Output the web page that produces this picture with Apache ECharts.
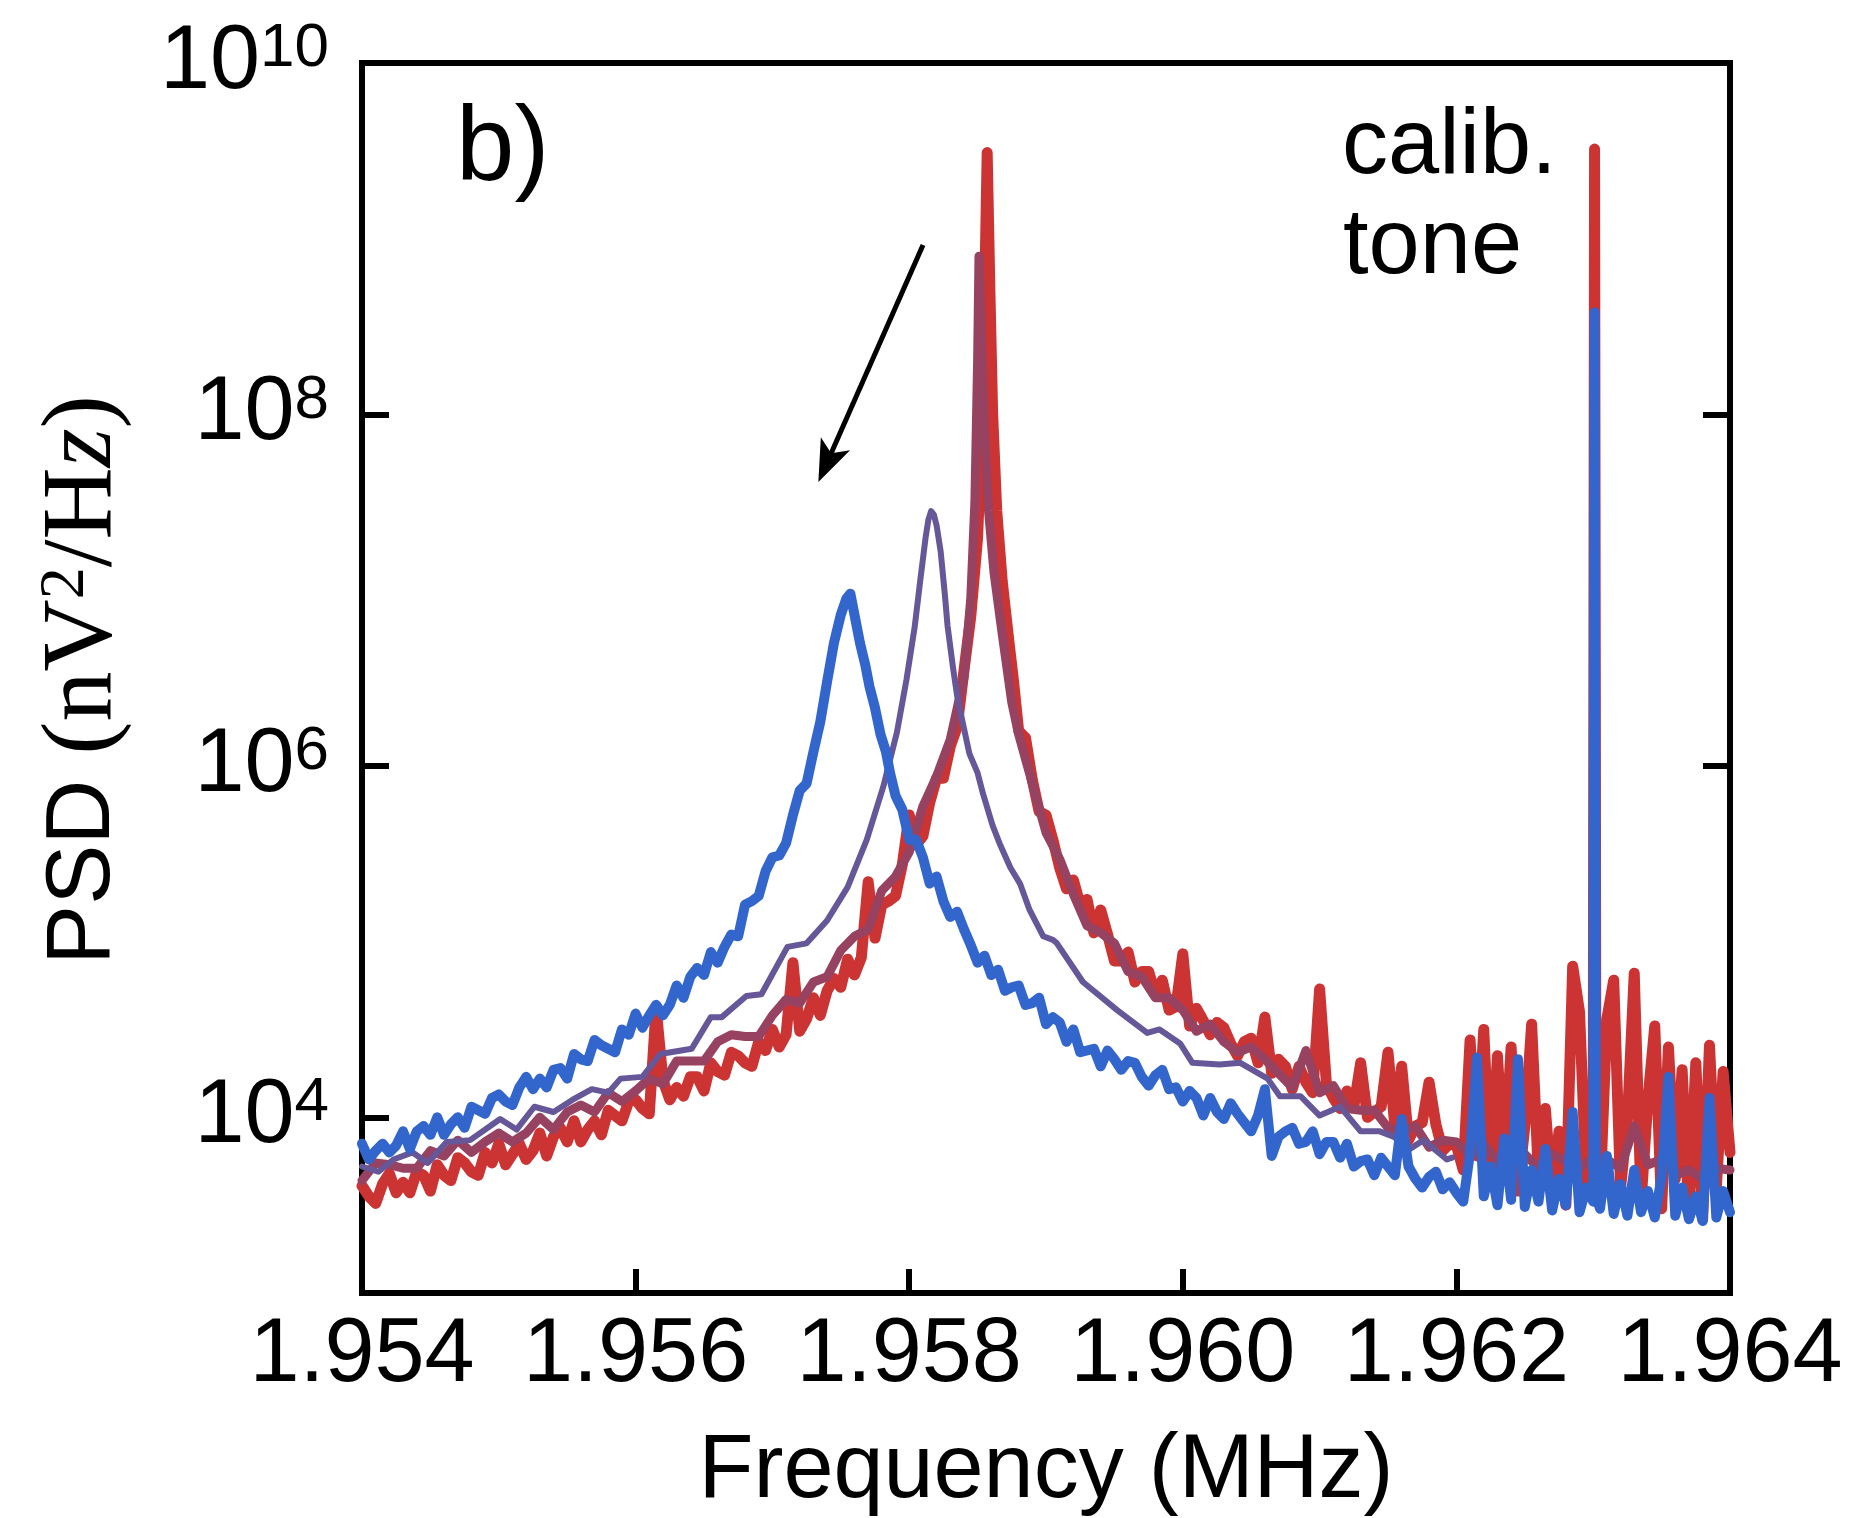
<!DOCTYPE html>
<html>
<head>
<meta charset="utf-8">
<title>PSD vs frequency</title>
<script src="https://cdn.jsdelivr.net/npm/echarts@6.0.0/dist/echarts.min.js"></script>
<style>
  html, body { margin: 0; padding: 0; background: #fff; }
  #chart { width: 1871px; height: 1518px; }
</style>
</head>
<body>
<div id="chart"></div>
<script>
// each point: [frequency in MHz, log10 of PSD in nV^2/Hz]
const redTrace = [
  [1.95400,3.61],[1.95405,3.55],[1.95410,3.51],[1.95415,3.62],[1.95420,3.68],[1.95425,3.57],[1.95430,3.63],[1.95435,3.57],[1.95440,3.69],[1.95445,3.67],
  [1.95450,3.58],[1.95455,3.73],[1.95460,3.67],[1.95465,3.64],[1.95470,3.77],[1.95475,3.74],[1.95480,3.69],[1.95485,3.67],[1.95490,3.80],[1.95495,3.74],
  [1.95500,3.85],[1.95505,3.73],[1.95510,3.79],[1.95515,3.85],[1.95520,3.76],[1.95525,3.81],[1.95530,3.91],[1.95535,3.78],[1.95540,3.89],[1.95545,3.94],
  [1.95550,3.86],[1.95555,3.98],[1.95560,3.86],[1.95565,3.93],[1.95570,3.98],[1.95575,3.90],[1.95580,4.04],[1.95585,4.01],[1.95590,3.98],[1.95595,4.09],
  [1.95600,4.10],[1.95605,4.05],[1.95610,4.02],[1.95615,4.62],[1.95620,4.21],[1.95625,4.10],[1.95630,4.17],[1.95635,4.12],[1.95640,4.23],[1.95645,4.23],
  [1.95650,4.15],[1.95655,4.31],[1.95660,4.26],[1.95665,4.24],[1.95670,4.37],[1.95675,4.35],[1.95680,4.31],[1.95685,4.29],[1.95690,4.43],[1.95695,4.38],
  [1.95700,4.50],[1.95705,4.40],[1.95710,4.47],[1.95715,4.88],[1.95720,4.49],[1.95725,4.56],[1.95730,4.68],[1.95735,4.58],[1.95740,4.72],[1.95745,4.79],
  [1.95750,4.74],[1.95755,4.90],[1.95760,4.81],[1.95765,4.91],[1.95770,5.34],[1.95775,5.02],[1.95780,5.21],[1.95785,5.23],[1.95790,5.26],[1.95795,5.44],
  [1.95800,5.72],[1.95805,5.55],[1.95810,5.60],[1.95815,5.79],[1.95820,5.93],[1.95825,5.93],[1.95830,6.11],[1.95835,6.22],[1.95840,6.54],[1.95845,6.85],
  [1.95850,7.30],[1.95853,7.90],[1.95855,8.60],[1.95857,9.49],[1.95859,8.70],[1.95861,8.00],[1.95864,7.45],[1.95868,7.05],[1.95873,6.70],[1.95876,6.50],
  [1.95880,6.20],[1.95885,6.16],[1.95890,5.92],[1.95895,5.74],[1.95900,5.72],[1.95905,5.58],[1.95910,5.42],[1.95915,5.30],[1.95920,5.35],[1.95925,5.21],
  [1.95930,5.24],[1.95935,5.05],[1.95940,5.18],[1.95945,5.04],[1.95950,4.89],[1.95955,4.89],[1.95960,4.94],[1.95965,4.77],[1.95970,4.83],[1.95975,4.83],
  [1.95980,4.70],[1.95985,4.78],[1.95990,4.61],[1.95995,4.63],[1.96000,4.93],[1.96005,4.52],[1.96010,4.62],[1.96015,4.55],[1.96020,4.47],[1.96025,4.54],
  [1.96030,4.51],[1.96035,4.42],[1.96040,4.35],[1.96045,4.43],[1.96050,4.45],[1.96055,4.31],[1.96060,4.57],[1.96065,4.25],[1.96070,4.33],[1.96075,4.29],
  [1.96080,4.16],[1.96085,4.29],[1.96090,4.20],[1.96095,4.14],[1.96100,4.73],[1.96105,4.19],[1.96110,4.11],[1.96115,4.05],[1.96120,4.15],[1.96125,4.06],
  [1.96130,4.31],[1.96135,4.00],[1.96140,4.03],[1.96145,4.06],[1.96150,4.37],[1.96155,3.95],[1.96160,4.29],[1.96165,3.87],[1.96170,3.95],[1.96175,3.97],
  [1.96180,4.20],[1.96185,3.96],[1.96190,3.81],[1.96195,3.85],
  [1.96200,3.84],[1.96205,3.70],[1.96210,4.44],[1.96215,3.78],[1.96220,4.50],[1.96225,3.62],[1.96230,4.35],[1.96235,3.70],[1.96240,4.40],[1.96245,3.58],
  [1.96250,3.95],[1.96255,4.53],[1.96260,3.66],[1.96265,4.05],[1.96270,3.55],[1.96275,3.92],[1.96280,3.50],[1.96285,4.86],[1.96290,4.60],[1.96295,3.62],
  [1.96300,3.80],[1.96301,9.51],[1.96302,3.75],[1.96305,3.55],[1.96310,4.56],[1.96315,4.78],[1.96320,3.60],[1.96325,3.98],[1.96330,4.82],[1.96335,3.52],
  [1.96340,4.10],[1.96345,4.52],[1.96350,3.48],[1.96355,4.40],[1.96360,3.65],[1.96365,4.27],[1.96370,3.45],[1.96375,4.31],[1.96380,3.42],[1.96385,4.41],
  [1.96390,3.60],[1.96395,4.26],[1.96400,3.80]
];

const mixedTrace = [
  [1.9540,3.64],[1.9541,3.74],[1.9542,3.73],[1.9543,3.71],[1.9544,3.71],[1.9545,3.81],[1.9546,3.78],[1.9547,3.87],[1.9548,3.80],[1.9549,3.86],
  [1.9550,3.91],[1.9551,3.86],[1.9552,3.91],[1.9553,4.00],[1.9554,3.93],[1.9555,4.03],[1.9556,4.07],[1.9557,4.03],[1.9558,4.14],[1.9559,4.09],
  [1.9560,4.15],[1.9561,4.22],[1.9562,4.19],[1.9563,4.32],[1.9564,4.32],[1.9565,4.32],[1.9566,4.43],[1.9567,4.47],[1.9568,4.46],[1.9569,4.46],
  [1.9570,4.58],[1.9571,4.67],[1.9572,4.65],[1.9573,4.77],[1.9574,4.80],[1.9575,4.95],[1.9576,5.03],[1.9577,5.07],[1.9578,5.29],[1.9579,5.37],
  [1.9580,5.51],[1.9581,5.77],[1.9582,5.94],[1.9583,6.15],[1.9584,6.50],[1.95845,6.95],[1.95848,7.50],[1.95850,8.30],[1.95851,8.90],[1.95853,8.40],
  [1.95855,7.90],[1.95858,7.45],[1.95862,7.10],[1.95868,6.75],[1.95875,6.36],[1.9588,6.18],[1.9589,5.90],[1.9590,5.62],[1.9591,5.47],[1.9592,5.27],
  [1.9593,5.09],[1.9594,5.05],[1.9595,4.99],[1.9596,4.83],[1.9597,4.80],[1.9598,4.68],[1.9599,4.68],[1.9600,4.61],[1.9601,4.49],[1.9602,4.53],
  [1.9603,4.43],[1.9604,4.37],[1.9605,4.40],[1.9606,4.33],[1.9607,4.25],[1.9608,4.17],[1.9609,4.38],[1.9610,4.14],[1.9611,4.18],[1.9612,4.05],
  [1.9613,4.04],[1.9614,4.04],[1.9615,3.94],[1.9616,3.92],[1.9617,3.95],[1.9618,3.83],[1.9619,3.87],[1.9620,3.86],[1.9621,3.78],[1.9622,3.85],
  [1.9623,3.75],[1.9624,3.77],[1.9625,3.79],[1.9626,3.71],[1.9627,3.79],[1.9628,3.75],[1.9629,3.71],[1.9630,3.77],[1.9631,3.76],[1.9632,3.71],
  [1.9633,3.95],[1.9634,3.73],[1.9635,3.76],[1.9636,3.67],[1.9637,3.70],[1.9638,3.65],[1.9639,3.71],[1.9640,3.70]
];

const purpleTrace = [
  [1.95400,3.72],[1.95412,3.69],[1.95423,3.76],[1.95437,3.80],[1.95448,3.74],[1.95462,3.86],[1.95479,3.87],[1.95501,3.99],[1.95513,3.93],[1.95526,4.06],
  [1.95540,4.03],[1.95554,4.10],[1.95568,4.16],[1.95580,4.14],[1.95589,4.22],[1.95605,4.23],[1.95618,4.36],[1.95641,4.39],[1.95655,4.57],[1.95663,4.57],
  [1.95681,4.69],[1.95692,4.70],[1.95711,4.97],[1.95725,4.99],[1.95740,5.12],[1.95755,5.31],[1.95769,5.58],[1.95781,5.88],[1.95791,6.19],[1.95798,6.49],
  [1.95804,6.79],[1.95808,7.05],[1.95812,7.30],[1.95814,7.40],[1.95816,7.45],[1.95818,7.43],[1.95820,7.37],[1.95823,7.22],[1.95826,6.98],[1.95828,6.80],
  [1.95832,6.56],[1.95835,6.40],[1.95839,6.25],[1.95844,6.07],[1.95850,5.96],[1.95854,5.84],[1.95861,5.66],[1.95866,5.56],[1.95874,5.42],[1.95881,5.33],
  [1.95888,5.18],[1.95898,5.03],[1.95905,5.01],[1.95908,4.99],[1.95927,4.77],[1.95952,4.61],[1.95974,4.48],[1.95983,4.50],[1.95998,4.42],[1.96007,4.31],
  [1.96027,4.30],[1.96042,4.31],[1.96062,4.22],[1.96071,4.12],[1.96086,4.12],[1.96100,4.01],[1.96115,4.06],[1.96130,3.92],[1.96144,3.92],[1.96154,3.89],
  [1.96166,3.82],[1.96176,3.87],[1.96193,3.76],[1.96197,3.77]
];

const blueTrace = [
  [1.95400,3.85],[1.95405,3.76],[1.95410,3.81],[1.95415,3.85],[1.95420,3.80],[1.95425,3.84],[1.95430,3.92],[1.95435,3.82],[1.95440,3.92],[1.95445,3.95],
  [1.95450,3.90],[1.95455,4.00],[1.95460,3.90],[1.95465,3.96],[1.95470,4.00],[1.95475,3.94],[1.95480,4.06],[1.95485,4.04],[1.95490,4.02],[1.95495,4.11],
  [1.95500,4.13],[1.95505,4.09],[1.95510,4.07],[1.95515,4.17],[1.95520,4.23],[1.95525,4.16],[1.95530,4.22],[1.95535,4.17],[1.95540,4.27],[1.95545,4.28],
  [1.95550,4.22],[1.95555,4.36],[1.95560,4.33],[1.95565,4.32],[1.95570,4.44],[1.95575,4.41],[1.95580,4.39],[1.95585,4.37],[1.95590,4.50],[1.95595,4.47],
  [1.95600,4.59],[1.95605,4.51],[1.95610,4.58],[1.95615,4.64],[1.95620,4.58],[1.95625,4.64],[1.95630,4.75],[1.95635,4.68],[1.95640,4.80],[1.95645,4.85],
  [1.95650,4.81],[1.95655,4.94],[1.95660,4.88],[1.95665,4.97],[1.95670,5.04],[1.95675,5.03],[1.95680,5.21],[1.95685,5.23],[1.95690,5.26],[1.95695,5.40],
  [1.95700,5.48],[1.95705,5.49],[1.95710,5.56],[1.95715,5.72],[1.95720,5.86],[1.95725,5.90],[1.95730,6.08],[1.95735,6.25],[1.95740,6.48],[1.95745,6.70],
  [1.95750,6.86],[1.95754,6.95],[1.95757,6.98],[1.95760,6.86],[1.95764,6.70],[1.95768,6.57],[1.95771,6.45],[1.95775,6.33],[1.95779,6.18],[1.95783,6.08],
  [1.95786,5.96],[1.95790,5.83],[1.95795,5.75],[1.95800,5.58],[1.95805,5.58],[1.95810,5.48],[1.95815,5.33],[1.95820,5.37],[1.95825,5.23],[1.95830,5.14],
  [1.95835,5.17],[1.95840,5.07],[1.95845,4.98],[1.95850,4.88],[1.95855,4.92],[1.95860,4.81],[1.95865,4.84],[1.95870,4.72],[1.95875,4.74],[1.95880,4.75],
  [1.95885,4.64],[1.95890,4.65],[1.95895,4.68],[1.95900,4.53],[1.95905,4.57],[1.95910,4.54],[1.95915,4.43],[1.95920,4.50],[1.95925,4.37],[1.95930,4.38],
  [1.95935,4.39],[1.95940,4.29],[1.95945,4.38],[1.95950,4.33],[1.95955,4.27],[1.95960,4.32],[1.95965,4.31],[1.95970,4.23],[1.95975,4.18],[1.95980,4.24],
  [1.95985,4.27],[1.95990,4.16],[1.95995,4.17],[1.96000,4.09],[1.96005,4.15],[1.96010,4.11],[1.96015,4.01],[1.96020,4.11],[1.96025,4.03],[1.96030,3.99],
  [1.96035,4.08],[1.96040,4.02],[1.96045,3.97],[1.96050,3.92],[1.96055,4.01],[1.96060,4.16],[1.96065,3.78],[1.96070,3.89],[1.96075,3.92],[1.96080,3.94],
  [1.96085,3.85],[1.96090,3.86],[1.96095,3.92],[1.96100,3.79],[1.96105,3.86],[1.96110,3.86],[1.96115,3.77],[1.96120,3.85],[1.96125,3.72],[1.96130,3.75],
  [1.96135,3.76],[1.96140,3.67],[1.96145,3.77],[1.96150,3.72],[1.96155,3.67],[1.96160,3.99],[1.96165,3.72],[1.96170,3.65],[1.96175,3.60],[1.96180,3.66],
  [1.96185,3.69],[1.96190,3.59],[1.96195,3.63],[1.96200,3.57],
  [1.96205,3.52],[1.96210,3.80],[1.96215,4.34],[1.96220,3.55],[1.96225,3.72],[1.96230,3.50],[1.96235,3.88],[1.96240,3.53],[1.96245,4.33],[1.96250,3.49],
  [1.96255,3.70],[1.96260,3.52],[1.96265,3.82],[1.96270,3.47],[1.96275,3.65],[1.96280,3.50],[1.96285,4.03],[1.96290,3.46],[1.96295,3.60],[1.96300,3.52],
  [1.96301,8.58],[1.96302,3.55],[1.96305,3.48],[1.96310,3.78],[1.96315,3.45],[1.96320,3.62],[1.96325,3.44],[1.96330,3.70],[1.96335,3.46],[1.96340,3.58],
  [1.96345,3.43],[1.96350,3.66],[1.96355,4.23],[1.96360,3.44],[1.96365,3.60],[1.96370,3.42],[1.96375,3.55],[1.96380,3.41],[1.96385,4.11],[1.96390,3.43],
  [1.96395,3.58],[1.96400,3.46]
];

const yTickValues = [1e4, 1e6, 1e8, 1e10];

const toPsd = pts => pts.map(p => [p[0], Math.pow(10, p[1])]);

const sans = 'Liberation Sans';
const serif = 'Liberation Serif';

const chart = echarts.init(document.getElementById('chart'));

function trace(data, color, width) {
  return {
    type: 'line',
    data: toPsd(data),
    symbol: 'none',
    showSymbol: false,
    silent: true,
    lineStyle: { color: color, width: width, join: 'round', cap: 'round' },
    itemStyle: { color: color }
  };
}

const blueSeries = trace(blueTrace, '#3366CC', 10);
// black arrow pointing down-left (annotation): shaft + head
blueSeries.markLine = {
  silent: true,
  symbol: ['none', 'none'],
  label: { show: false },
  lineStyle: { color: '#000', width: 5, type: 'solid', opacity: 1 },
  data: [[
    { coord: [1.958101, 9.2e8] },
    { coord: [1.957390, 5.12e7] }
  ]]
};
blueSeries.markPoint = {
  silent: true,
  symbol: 'arrow',
  symbolSize: [24, 42],
  symbolRotate: 156,
  label: { show: false },
  itemStyle: { color: '#000' },
  data: [{ coord: [1.957336, 4.12e7] }]
};

const option = {
  animation: false,
  backgroundColor: '#fff',
  grid: {
    left: 362, top: 63, width: 1368, height: 1230,
    show: true, borderColor: '#000', borderWidth: 6,
    containLabel: false, outerBoundsMode: 'none'
  },
  xAxis: [{
    type: 'value', min: 1.954, max: 1.964, interval: 0.002, position: 'bottom',
    axisLine: { show: true, onZero: false, lineStyle: { color: '#000', width: 6 } },
    axisTick: { show: true, inside: true, length: 24, lineStyle: { color: '#000', width: 6 } },
    axisLabel: {
      margin: 18, fontSize: 90, fontFamily: sans, color: '#000',
      showMinLabel: true, showMaxLabel: true,
      formatter: v => v.toFixed(3)
    },
    splitLine: { show: false },
    name: 'Frequency (MHz)', nameLocation: 'middle', nameGap: 134,
    nameTextStyle: { fontSize: 90, fontFamily: sans, color: '#000' }
  }, {
    type: 'value', min: 1.954, max: 1.964, position: 'top',
    axisLine: { show: true, onZero: false, lineStyle: { color: '#000', width: 6 } },
    axisTick: { show: false }, axisLabel: { show: false }, splitLine: { show: false }
  }],
  yAxis: [{
    type: 'log', logBase: 10, min: 1e3, max: 1e10, position: 'left',
    axisLine: { show: true, onZero: false, lineStyle: { color: '#000', width: 6 } },
    axisTick: { show: true, inside: true, length: 27, customValues: yTickValues, lineStyle: { color: '#000', width: 6 } },
    axisLabel: {
      margin: 33, customValues: yTickValues,
      formatter: v => '{b|10}{e|' + Math.round(Math.log10(v)) + '}',
      rich: {
        b: { fontSize: 90, fontFamily: sans, color: '#000', lineHeight: 90 },
        e: { fontSize: 62, fontFamily: sans, color: '#000', lineHeight: 44, verticalAlign: 'top' }
      }
    },
    minorTick: { show: false },
    splitLine: { show: false }
  }, {
    type: 'log', logBase: 10, min: 1e3, max: 1e10, position: 'right',
    axisLine: { show: true, onZero: false, lineStyle: { color: '#000', width: 6 } },
    axisTick: { show: true, inside: true, length: 27, customValues: yTickValues, lineStyle: { color: '#000', width: 6 } },
    axisLabel: { show: false },
    splitLine: { show: false }
  }],
  graphic: [
    {
      type: 'text', x: 84, y: 680, rotation: Math.PI / 2,
      style: {
        text: '{s|PSD }{p|(nV}{sup|2}{p|/H}{i|z}{p|)}',
        align: 'center', verticalAlign: 'middle',
        textAlign: 'center', textVerticalAlign: 'middle',
        rich: {
          s: { fontSize: 90, fontFamily: sans, fill: '#000', color: '#000', lineHeight: 100 },
          p: { fontSize: 100, fontFamily: serif, fill: '#000', color: '#000', lineHeight: 100 },
          i: { fontSize: 100, fontFamily: serif, fontStyle: 'italic', fill: '#000', color: '#000', lineHeight: 100 },
          sup: { fontSize: 64, fontFamily: serif, fill: '#000', color: '#000', lineHeight: 46, verticalAlign: 'top' }
        }
      }
    },
    {
      type: 'text', x: 456, y: 151,
      style: { text: 'b)', fontSize: 105, fontFamily: sans, fill: '#000', verticalAlign: 'middle', textVerticalAlign: 'middle' }
    },
    {
      type: 'text', x: 1342, y: 148,
      style: { text: 'calib.', fontSize: 92, fontFamily: sans, fill: '#000', verticalAlign: 'middle', textVerticalAlign: 'middle' }
    },
    {
      type: 'text', x: 1343, y: 248,
      style: { text: 'tone', fontSize: 92, fontFamily: sans, fill: '#000', verticalAlign: 'middle', textVerticalAlign: 'middle' }
    }
  ],
  series: [
    trace(redTrace, '#CC3333', 11),
    trace(mixedTrace, '#984262', 9),
    trace(purpleTrace, '#665799', 6),
    blueSeries
  ]
};

chart.setOption(option);
</script>
</body>
</html>
